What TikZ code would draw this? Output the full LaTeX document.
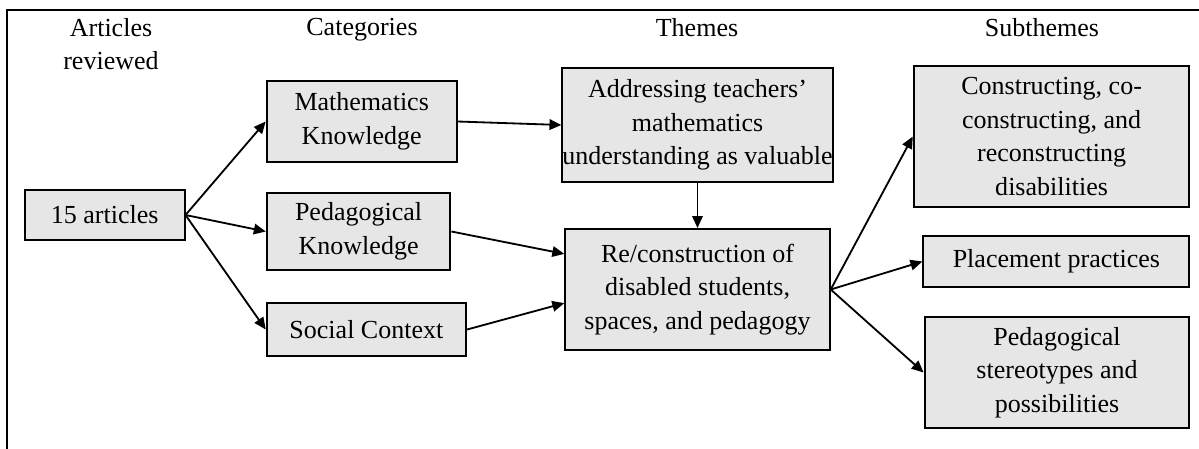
\documentclass[tikz,border=0pt]{standalone}
\usepackage{fontspec}
\setmainfont{Liberation Serif}
\usetikzlibrary{arrows.meta}
\definecolor{boxfill}{RGB}{230,230,230}
\tikzset{
  box/.style={draw, fill=boxfill, line width=1.4pt, inner sep=0pt, align=center},
  head/.style={inner sep=0pt, anchor=north, align=center}
}
\begin{document}
\begin{tikzpicture}[x=0.025cm, y=-0.025cm, font=\fontsize{18.5}{23.8}\selectfont]
      \useasboundingbox (0,0) rectangle (1199,448);
      \draw[line width=1.8pt] (7,470) |- (1220,10);
      \draw
        (111,18) node[head] (hart){Articles\\reviewed}
        (362,18) node[head] (hcat){Categories}
        (697,18) node[head] (hthm){Themes}
        (1042,18) node[head] (hsub){Subthemes};
      \draw
        (104.7,215) node[box, minimum width=3.99cm, minimum height=1.25cm] (arts){15 articles}
        (361.7,121.5) node[box, minimum width=4.75cm, minimum height=2.025cm] (math){Mathematics\\Knowledge}
        (358.6,231.5) node[box, minimum width=4.59cm, minimum height=1.925cm] (peda){Pedagogical\\Knowledge}
        (366.4,329.5) node[box, minimum width=4.985cm, minimum height=1.325cm] (soc){Social Context}
        (697.5,125) node[box, minimum width=6.61cm, minimum height=2.85cm] (addr){Addressing teachers’\\mathematics\\understanding as valuable}
        (697.5,289.5) node[box, minimum width=6.61cm, minimum height=3.025cm] (recon){Re/construction of\\disabled students,\\spaces, and pedagogy}
        (1051.6,136.5) node[box, minimum width=6.89cm, minimum height=3.525cm] (cons){Constructing, co-\\constructing, and\\reconstructing\\disabilities}
        (1056.4,261.5) node[box, minimum width=6.65cm, minimum height=1.275cm] (place){Placement practices}
        (1057,372.5) node[box, minimum width=6.62cm, minimum height=2.775cm] (stereo){Pedagogical\\stereotypes and\\possibilities};
      \begin{scope}[-{Triangle[length=8.5pt,width=7.5pt]}, line width=1.3pt]
        \draw (arts.east) to (math.west);
        \draw (arts.east) to (peda.west);
        \draw (arts.east) to (soc.west);
        \draw (math.east) to (addr.west);
        \draw (peda.east) to ([yshift=0.89cm]recon.west);
        \draw (soc.east) to ([yshift=-0.34cm]recon.west);
        \draw (addr.south) to (recon.north);
        \draw (recon.east) to (cons.west);
        \draw (recon.east) to (place.west);
        \draw (recon.east) to (stereo.west);
      \end{scope}
    \end{tikzpicture}
\end{document}
